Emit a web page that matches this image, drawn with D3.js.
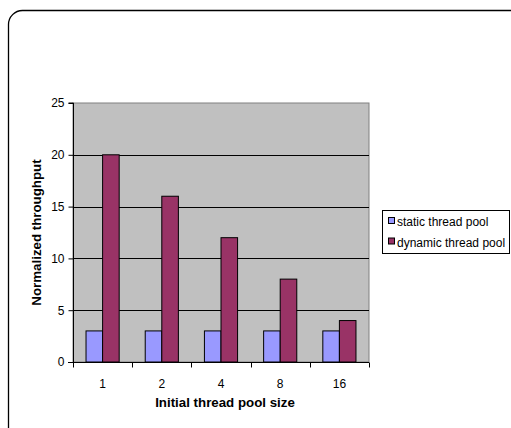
<!DOCTYPE html>
<html><head><meta charset="utf-8">
<script src="https://cdn.jsdelivr.net/npm/d3@7"></script>
<style>body{margin:0;background:#fff;} svg{display:block;font-family:"Liberation Sans",Arial,sans-serif;}</style>
</head><body>
<svg id="c" width="511" height="428"></svg>
<script>
const categories = ["1","2","4","8","16"];
const seriesNames = ["static thread pool","dynamic thread pool"];
const staticValues = [3,3,3,3,3];
const dynamicValues = [20,16,12,8,4];
const yTicks = [0,5,10,15,20,25];
const colors = ["#9999FF","#993366"];

const svg = d3.select("#c");
// outer rounded frame
svg.append("rect").attr("x",8.5).attr("y",10.5).attr("width",560).attr("height",440)
  .attr("rx",14).attr("fill","none").attr("stroke","#000").attr("stroke-width",1.3);

const L=73, R=369, T=103, B=362;
const x = d3.scaleBand().domain(categories).range([L,R]).paddingInner(0.44).paddingOuter(0.22);
const xs = d3.scaleBand().domain(seriesNames).range([0,x.bandwidth()]);
const y = d3.scaleLinear().domain([0,25]).range([B,T]);

svg.append("rect").attr("x",L).attr("y",T).attr("width",R-L).attr("height",B-T)
  .attr("fill","#C0C0C0").attr("stroke","#808080").attr("stroke-width",1);

// gridlines
svg.append("g").selectAll("line").data(yTicks.filter(d=>d>0&&d<25)).join("line")
  .attr("x1",L).attr("x2",R).attr("y1",d=>Math.round(y(d))+0.5).attr("y2",d=>Math.round(y(d))+0.5)
  .attr("stroke","#000").attr("stroke-width",1);

const data = categories.map((c,i)=>({c, vals:[staticValues[i],dynamicValues[i]]}));
const g = svg.append("g");
data.forEach(d=>{
  d.vals.forEach((v,j)=>{
    g.append("rect").attr("x",x(d.c)+xs(seriesNames[j])).attr("y",y(v))
      .attr("width",xs.bandwidth()).attr("height",B-y(v))
      .attr("fill",colors[j]).attr("stroke","#000").attr("stroke-width",1);
  });
});

// y axis
const yAxis = d3.axisLeft(y).tickValues(yTicks).tickSize(5).tickPadding(4);
const ya = svg.append("g").attr("transform",`translate(${L+0.5},0)`).call(yAxis);
ya.select(".domain").attr("stroke","#000").attr("d",`M-5,${T}H0V${B}`);
ya.selectAll("text").attr("font-size",12).attr("fill","#000").attr("font-family","Liberation Sans, Arial, sans-serif");

// x axis
const xa = svg.append("g").attr("transform",`translate(0,${B+0.5})`);
xa.append("line").attr("x1",L-5).attr("x2",R).attr("stroke","#000");
const bounds = d3.range(categories.length+1).map(i=>L+i*x.step());
xa.selectAll("line.t").data(bounds).join("line").attr("class","t")
  .attr("x1",d=>Math.round(d)+0.5).attr("x2",d=>Math.round(d)+0.5).attr("y1",0).attr("y2",5).attr("stroke","#000");
xa.selectAll("text").data(categories).join("text")
  .attr("x",d=>x(d)+x.bandwidth()/2).attr("y",25).attr("text-anchor","middle")
  .attr("font-size",12).attr("fill","#000").text(d=>d);

// axis titles
svg.append("text").attr("x",225).attr("y",407).attr("text-anchor","middle")
  .attr("font-size",13.3).attr("font-weight","bold").text("Initial thread pool size");
svg.append("text").attr("transform",`translate(41,${(T+B)/2}) rotate(-90)`).attr("text-anchor","middle")
  .attr("font-size",13.3).attr("font-weight","bold").text("Normalized throughput");

// legend
const lg = svg.append("g");
lg.append("rect").attr("x",382.5).attr("y",210.5).attr("width",127).attr("height",43)
  .attr("fill","#fff").attr("stroke","#000");
seriesNames.forEach((s,i)=>{
  const yy = 222 + i*20.5;
  lg.append("rect").attr("x",388.5).attr("y",yy-4.5).attr("width",6).attr("height",6)
    .attr("fill",colors[i]).attr("stroke","#000");
  lg.append("text").attr("x",397).attr("y",yy+4).attr("font-size",12).attr("fill","#000")
    .text(s);
});
</script>
</body></html>
